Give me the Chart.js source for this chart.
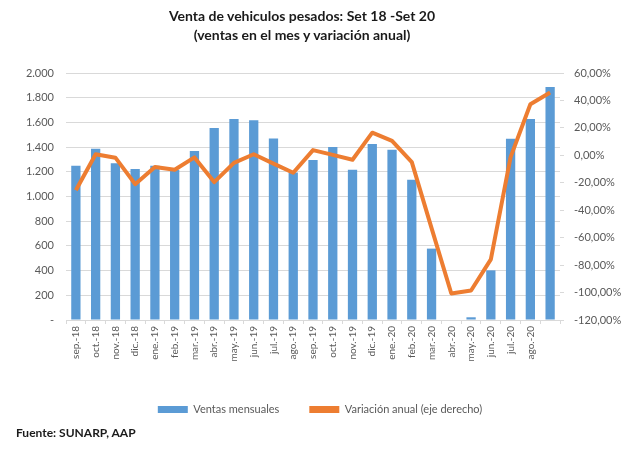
<!DOCTYPE html>
<html>
<head>
<meta charset="utf-8">
<script src="https://cdn.jsdelivr.net/npm/chart.js@4.4.1/dist/chart.umd.min.js"></script>
<style>
  body { margin: 0; background: #fff; }
  #caja { position: relative; width: 640px; height: 455px; }
  #titulo {
    position: absolute; left: 0; top: 6px; width: 604px;
    text-align: center; font: bold 14px Lato, sans-serif; line-height: 19px; color: #1a1a1a;
  }
  #fuente {
    position: absolute; left: 16px; top: 425px;
    font: bold 12px Lato, sans-serif; color: #1a1a1a;
  }
</style>
</head>
<body>
<div id="caja">
  <canvas id="grafico"></canvas>
  <div id="titulo">Venta de vehiculos pesados: Set 18 -Set 20<br>(ventas en el mes y variación anual)</div>
  <div id="fuente">Fuente: SUNARP, AAP</div>
</div>
<script>
// Datos
var meses = ["sep.-18", "oct.-18", "nov.-18", "dic.-18", "ene.-19", "feb.-19", "mar.-19", "abr.-19",
  "may.-19", "jun.-19", "jul.-19", "ago.-19", "sep.-19", "oct.-19", "nov.-19", "dic.-19",
  "ene.-20", "feb.-20", "mar.-20", "abr.-20", "may.-20", "jun.-20", "jul.-20", "ago.-20", ""];
var ventasMensuales = [1250, 1386, 1270, 1222, 1250, 1216, 1368, 1554, 1627, 1617, 1470, 1195,
  1296, 1400, 1217, 1426, 1378, 1136, 578, 0, 22, 402, 1468, 1627, 1886];
var variacionAnual = [-25.4, 0.8, -1.7, -21, -8.5, -10.5, -1.5, -19.5, -5.5, 0.8, -6, -12.7,
  3.8, 0.3, -3.2, 16.5, 10.5, -5, -53, -100.7, -98.5, -75.8, -1.3, 37.2, 45.8];
var nomVentas = "Ventas mensuales";
var nomVariacion = "Variación anual (eje derecho)";

var gris = "#595959";
var fuente = "Lato, sans-serif";

// Formato con punto de miles, "-" para el cero
function formatoMiles(v) {
  if (v == 0) return "-";
  return v.toString().replace(/\B(?=(\d{3})+(?!\d))/g, ".");
}

function formatoPorc(v) {
  return v.toFixed(2).replace(".", ",") + "%";
}

const data = {
  labels: meses,
  datasets: [
    {
      type: "line",
      label: nomVariacion,
      data: variacionAnual,
      yAxisID: "y1",
      borderColor: "#ed7d31",
      backgroundColor: "#ed7d31",
      borderWidth: 4,
      pointRadius: 0,
      tension: 0,
      borderJoinStyle: "round",
      order: 0,
    },
    {
      type: "bar",
      label: nomVentas,
      data: ventasMensuales,
      yAxisID: "y",
      backgroundColor: "#5b9bd5",
      barPercentage: 0.47,
      categoryPercentage: 1,
      order: 1,
    },
  ],
};

const config = {
  data: data,
  options: {
    responsive: true,
    maintainAspectRatio: false,
    animation: false,
    layout: { padding: { top: 73, left: 0, right: 0, bottom: 30 } },
    plugins: {
      title: { display: false },
      tooltip: { enabled: false },
      legend: {
        position: "bottom",
        reverse: true,
        labels: {
          color: gris,
          font: { family: fuente, size: 11 },
          boxWidth: 30,
          boxHeight: 7,
          padding: 30,
          generateLabels: function (chart) {
            var items = Chart.defaults.plugins.legend.labels.generateLabels(chart);
            items.forEach(function (it) { it.lineWidth = 0; });
            return items;
          },
        },
      },
    },
    scales: {
      x: {
        offset: true,
        grid: { display: true, drawOnChartArea: false, offset: true, tickLength: 4, color: "#d9d9d9" },
        border: { color: "#d9d9d9" },
        ticks: {
          color: gris,
          font: { family: fuente, size: 10 },
          minRotation: 90,
          maxRotation: 90,
          autoSkip: false,
          padding: 2,
        },
        afterFit: function (scale) { scale.height = 54; },
      },
      y: {
        position: "left",
        min: 0,
        max: 2000,
        grid: { color: "#d9d9d9", drawTicks: false },
        border: { display: false },
        ticks: {
          stepSize: 200,
          color: gris,
          font: { family: fuente, size: 11 },
          padding: 12,
          callback: function (v) { return formatoMiles(v); },
        },
        afterFit: function (scale) { scale.width = 66; },
      },
      y1: {
        position: "right",
        min: -120,
        max: 60,
        grid: { drawOnChartArea: false, tickLength: 4, color: "#d9d9d9" },
        border: { display: false },
        ticks: {
          stepSize: 20,
          color: gris,
          font: { family: fuente, size: 11 },
          padding: 10,
          callback: function (v) { return formatoPorc(v); },
        },
        afterFit: function (scale) { scale.width = 80; },
      },
    },
  },
};

var grafico = new Chart(document.getElementById("grafico"), config);
</script>
</body>
</html>
